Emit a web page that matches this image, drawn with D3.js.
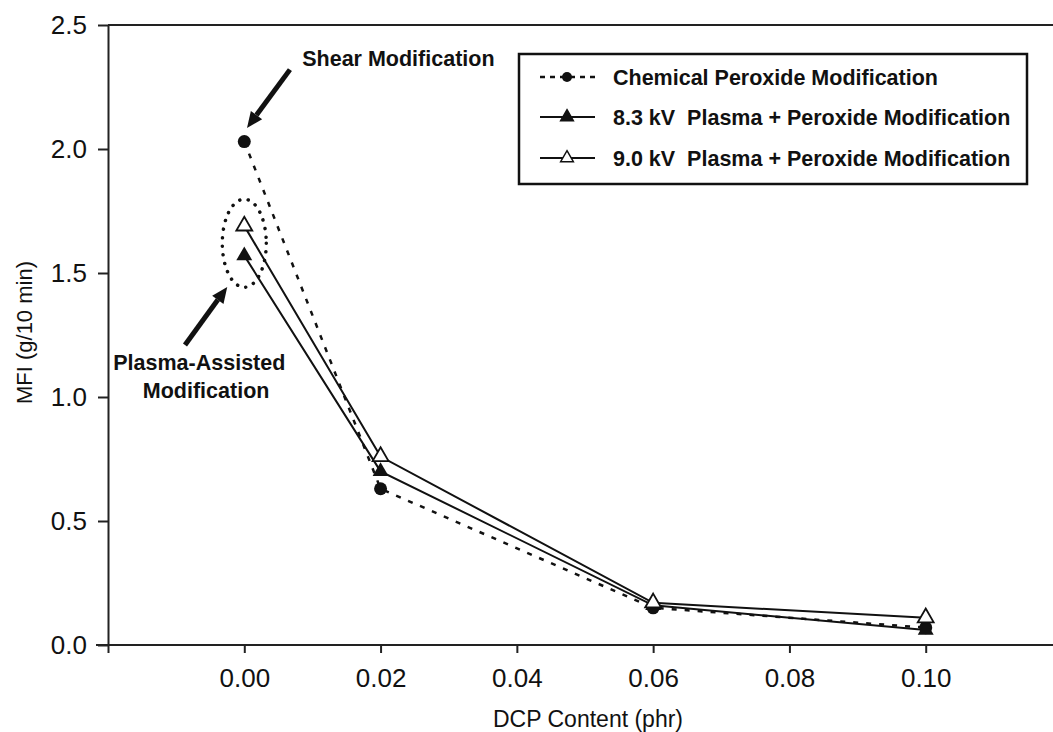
<!DOCTYPE html>
<html><head><meta charset="utf-8">
<script src="https://cdn.jsdelivr.net/npm/d3@7"></script>
<style>
html,body{margin:0;padding:0;background:#fff;}
svg{display:block;font-family:"Liberation Sans",Arial,sans-serif;}
</style></head>
<body>
<svg id="chart" width="1053" height="732"></svg>
<script>
// ---- data ----
const dcp = [0, 0.02, 0.06, 0.10];
const chemical = [2.03, 0.63, 0.15, 0.07];
const plasma83 = [1.57, 0.70, 0.16, 0.06];
const plasma90 = [1.69, 0.76, 0.17, 0.11];
const xTicks = [-0.02, 0, 0.02, 0.04, 0.06, 0.08, 0.10, 0.12];
const xTickLabels = ["", "0.00", "0.02", "0.04", "0.06", "0.08", "0.10", ""];
const yTicks = [0, 0.5, 1.0, 1.5, 2.0, 2.5];
const yTickLabels = ["0.0", "0.5", "1.0", "1.5", "2.0", "2.5"];
const seriesNames = ["Chemical Peroxide Modification", "8.3 kV  Plasma + Peroxide Modification", "9.0 kV  Plasma + Peroxide Modification"];
const xTitle = "DCP Content (phr)";
const yTitle = "MFI (g/10 min)";

const svg = d3.select("#chart");
const x = d3.scaleLinear().domain([-0.02, 0.12]).range([108, 1062]);
const y = d3.scaleLinear().domain([0, 2.5]).range([645, 25]);

// frame top line
svg.append("line").attr("x1", x(-0.02)).attr("x2", x(0.12)).attr("y1", y(2.5)).attr("y2", y(2.5))
  .attr("stroke", "#222").attr("stroke-width", 2);

// x axis
const xAxis = d3.axisBottom(x).tickValues(xTicks).tickSize(8).tickSizeOuter(0)
  .tickFormat((d, i) => xTickLabels[i]);
const gx = svg.append("g").attr("transform", `translate(0,${y(0)})`).call(xAxis);
gx.select(".domain").attr("stroke", "#222").attr("stroke-width", 2).attr("d", `M${x(-0.02) - 12},0H${x(0.12)}`);
gx.selectAll(".tick line").attr("stroke", "#222").attr("stroke-width", 2);
gx.selectAll(".tick text").attr("font-size", 26).attr("fill", "#111").attr("dy", "1.2em")
  .attr("font-family", "Liberation Sans, Arial, sans-serif");

// y axis
const yAxis = d3.axisLeft(y).tickValues(yTicks).tickSize(10).tickSizeOuter(0)
  .tickFormat((d, i) => yTickLabels[i]);
const gy = svg.append("g").attr("transform", `translate(${x(-0.02)},0)`).call(yAxis);
gy.select(".domain").attr("stroke", "#222").attr("stroke-width", 2);
gy.selectAll(".tick line").attr("stroke", "#222").attr("stroke-width", 2);
gy.selectAll(".tick text").attr("font-size", 26).attr("fill", "#111").attr("x", -21)
  .attr("font-family", "Liberation Sans, Arial, sans-serif");

// axis titles
svg.append("text").attr("x", 588).attr("y", 727).attr("text-anchor", "middle")
  .attr("font-size", 23).attr("fill", "#111").text(xTitle);
svg.append("text").attr("transform", `translate(32,${y(1.26)}) rotate(-90)`).attr("text-anchor", "middle")
  .attr("font-size", 22).attr("fill", "#111").text(yTitle);

// lines
const line = d3.line().x(d => x(d[0])).y(d => y(d[1]));
const z = arr => dcp.map((d, i) => [d, arr[i]]);

svg.append("path").datum(z(chemical)).attr("d", line).attr("fill", "none")
  .attr("stroke", "#111").attr("stroke-width", 2.5).attr("stroke-dasharray", "5,8");
svg.append("path").datum(z(plasma90)).attr("d", line).attr("fill", "none")
  .attr("stroke", "#111").attr("stroke-width", 2);
svg.append("path").datum(z(plasma83)).attr("d", line).attr("fill", "none")
  .attr("stroke", "#111").attr("stroke-width", 2);

const tri = d3.symbol().type(d3.symbolTriangle).size(110);
svg.selectAll(".c").data(z(chemical)).join("circle")
  .attr("cx", d => x(d[0])).attr("cy", d => y(d[1])).attr("r", 6.5).attr("fill", "#111");
svg.selectAll(".t83").data(z(plasma83)).join("path").attr("d", tri)
  .attr("transform", d => `translate(${x(d[0])},${y(d[1])})`).attr("fill", "#111");
svg.selectAll(".t90").data(z(plasma90)).join("path").attr("d", tri)
  .attr("transform", d => `translate(${x(d[0])},${y(d[1])})`).attr("fill", "#fff")
  .attr("stroke", "#111").attr("stroke-width", 1.8);

// dotted ellipse
svg.append("ellipse").attr("cx", x(0)).attr("cy", y(1.62)).attr("rx", 22).attr("ry", 44)
  .attr("fill", "none").attr("stroke", "#111").attr("stroke-width", 3.5)
  .attr("stroke-dasharray", "0.1,8.5").attr("stroke-linecap", "round");

// arrows
function arrow(x1, y1, x2, y2) {
  const ang = Math.atan2(y2 - y1, x2 - x1);
  const L = 16, W = 7;
  const bx = x2 - L * Math.cos(ang), by = y2 - L * Math.sin(ang);
  svg.append("line").attr("x1", x1).attr("y1", y1).attr("x2", bx).attr("y2", by)
    .attr("stroke", "#111").attr("stroke-width", 5);
  const px = -Math.sin(ang), py = Math.cos(ang);
  svg.append("path").attr("d", `M${x2},${y2}L${bx + W * px},${by + W * py}L${bx - W * px},${by - W * py}Z`)
    .attr("fill", "#111");
}
arrow(x(0.0067), y(2.32), x(0.0004), y(2.085));
arrow(x(-0.0087), y(1.21), x(-0.0025), y(1.444));

// annotation texts
svg.append("text").attr("x", x(0.0085)).attr("y", y(2.335)).attr("font-size", 21.5)
  .attr("font-weight", "bold").attr("fill", "#111").text("Shear Modification");
svg.append("text").attr("x", x(-0.0066)).attr("y", y(1.109)).attr("text-anchor", "middle")
  .attr("font-size", 21.5).attr("font-weight", "bold").attr("fill", "#111").text("Plasma-Assisted");
svg.append("text").attr("x", x(-0.0056)).attr("y", y(0.996)).attr("text-anchor", "middle")
  .attr("font-size", 21.5).attr("font-weight", "bold").attr("fill", "#111").text("Modification");

// legend
const lg = svg.append("g");
lg.append("rect").attr("x", 519).attr("y", 54).attr("width", 508).attr("height", 130)
  .attr("fill", "#fff").attr("stroke", "#111").attr("stroke-width", 2.5);
const rowsY = [77, 117, 158];
seriesNames.forEach((name, i) => {
  const yy = rowsY[i];
  const l = lg.append("line").attr("x1", 540).attr("x2", 595).attr("y1", yy).attr("y2", yy)
    .attr("stroke", "#111").attr("stroke-width", 2);
  if (i === 0) {
    l.attr("stroke-dasharray", "5,5").attr("stroke-width", 2.5);
    lg.append("circle").attr("cx", 567).attr("cy", yy).attr("r", 5).attr("fill", "#111");
  } else {
    lg.append("path").attr("d", d3.symbol().type(d3.symbolTriangle).size(70))
      .attr("transform", `translate(567,${yy})`)
      .attr("fill", i === 1 ? "#111" : "#fff").attr("stroke", "#111").attr("stroke-width", 1.5);
  }
  lg.append("text").attr("x", 613).attr("y", yy).attr("dy", "0.36em")
    .attr("font-size", 21.5).attr("font-weight", "bold").attr("fill", "#111")
    .style("white-space", "pre").text(name);
});
</script>
</body></html>
